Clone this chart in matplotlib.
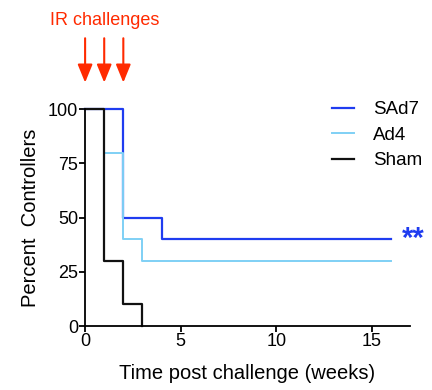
import matplotlib
matplotlib.use('Agg')
import matplotlib.pyplot as plt

plt.rcParams['font.family'] = ['Liberation Sans', 'DejaVu Sans']

# survival steps (weeks, percent)
sad7_t = [0, 2, 4, 16]
sad7_y = [100, 50, 40, 40]
ad4_t = [0, 1, 2, 3, 16]
ad4_y = [100, 80, 40, 30, 30]
sham_t = [0, 1, 2, 3]
sham_y = [100, 30, 10, 0]
challenge_weeks = [0, 1, 2]

fig = plt.figure(figsize=(4.32, 3.9), dpi=100)
ax = fig.add_axes([0.197, 0.164, 0.752, 0.556])

ax.step(sad7_t, sad7_y, where='post', color='#1f3cf0', lw=1.6, label='SAd7', clip_on=False)
ax.step(ad4_t, ad4_y, where='post', color='#7fd0f5', lw=1.4, label='Ad4', clip_on=False)
ax.step(sham_t, sham_y, where='post', color='#111111', lw=1.6, label='Sham', clip_on=False)

ax.set_xlim(0, 17)
ax.set_ylim(0, 100)
ax.set_xticks([0, 5, 10, 15])
ax.set_yticks([0, 25, 50, 75, 100])
for s in ['top', 'right']:
    ax.spines[s].set_visible(False)
for s in ['left', 'bottom']:
    ax.spines[s].set_linewidth(1.3)
ax.tick_params(labelsize=13, width=1.3, length=4, pad=1)
ax.set_xlabel('Time post challenge (weeks)', fontsize=14.5, labelpad=10)
ax.set_ylabel('Percent  Controllers', fontsize=14.5, labelpad=6)

ax.legend(loc='upper right', bbox_to_anchor=(1.09, 1.115), frameon=False, fontsize=13.5,
          handlelength=1.2, handletextpad=1.0, labelspacing=0.45)

ax.text(16.6, 40, '**', color='#1f3cf0', fontsize=21, fontweight='bold',
        va='center', ha='left', clip_on=False)

# challenge arrows
for w in challenge_weeks:
    ax.annotate('', xy=(w, 111), xytext=(w, 134), xycoords='data',
                annotation_clip=False,
                arrowprops=dict(arrowstyle='-|>,head_width=0.45,head_length=1.1',
                                color='#ff2a00', lw=1.5))
ax.text(1, 137, 'IR challenges', color='#ff2a00', fontsize=13, ha='center', va='bottom',
        clip_on=False)

fig.savefig('out.png', dpi=100)
